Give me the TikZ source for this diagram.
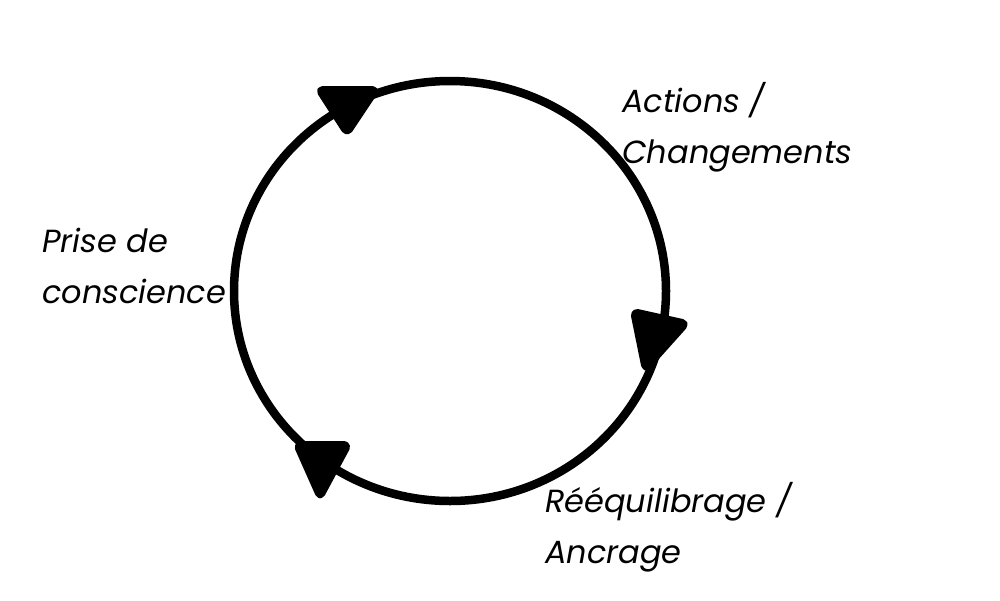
\documentclass[tikz,border=0pt]{standalone}
\usepackage{fontspec}
\setmainfont{Poppins}[Ligatures=NoCommon]
\begin{document}
\begin{tikzpicture}[x=1pt,y=-1pt,
  lbl/.style={anchor=base west,inner sep=0pt,font=\fontsize{32}{50}\selectfont\itshape},
  tip/.style={fill=black,draw=black,line width=6pt,line join=round,rounded corners=5pt}]
\useasboundingbox (0,0) rectangle (1000,600);
\draw[line width=8.5pt] (450,291) ellipse [x radius=216, y radius=210];
\coordinate (c) at (450,291);
\path[tip] (318,89) -- (377,89) -- (347,134) -- cycle;
\path[tip] (633,311) -- (687,323) -- (645,370) -- cycle;
\path[tip] (296,444) -- (349,444) -- (320,498) -- cycle;
\node[lbl] (p1) at (42,252) {Prise de};
\node[lbl] (p2) at (42,303) {conscience};
\node[lbl] (a1) at (622,112) {Actions /};
\node[lbl] (a2) at (622,163) {Changements};
\node[lbl] (r1) at (545,512) {Rééquilibrage /};
\node[lbl] (r2) at (545,563) {Ancrage};
\end{tikzpicture}
\end{document}
